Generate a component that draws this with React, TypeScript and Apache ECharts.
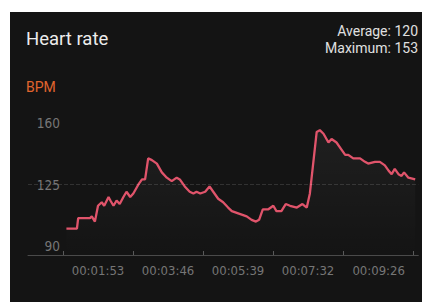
import React, { useEffect, useRef } from "react";
import * as echarts from "echarts";

// elapsed seconds of each sample
const times = [62, 79, 81, 100, 103, 108, 113, 119, 123, 130, 133, 138, 143, 148, 154, 159, 165, 170, 178, 184, 189, 194, 200, 208, 216, 224, 232, 240, 245, 253, 261, 267, 272, 278, 286, 293, 299, 307, 315, 323, 329, 337, 345, 353, 361, 368, 373, 379, 383, 388, 396, 401, 409, 416, 423, 434, 443, 450, 455, 460, 466, 471, 477, 485, 490, 498, 506, 512, 517, 525, 536, 544, 549, 560, 568, 576, 582, 587, 592, 598, 603, 607, 614, 625];
// heart rate (BPM)
const bpm = [100, 100, 106, 106, 107, 104, 113, 115, 113, 118, 116, 113, 116, 114, 118, 121, 118, 120, 125, 128, 128, 140, 139, 137, 132, 129, 127, 129, 128, 124, 121, 120, 121, 120, 121, 124, 121, 117, 115, 112, 110, 109, 108, 107, 105, 104, 105, 111, 111, 111, 113, 110, 110, 114, 113, 112, 114, 112, 120, 136, 155, 156, 154, 149, 151, 149, 145, 142, 142, 140, 140, 138, 137, 138, 138, 136, 133, 131, 134, 131, 130, 132, 129, 128];

const xLabelValues = [113, 226, 339, 452, 566];
const xTickValues = [56.5, 169.5, 282.5, 395.5, 508.5, 621.5];
const yLabelValues = [90, 125, 160];
const referenceLine = 125;
const title = "Heart rate";
const unit = "BPM";
const statAverage = "Average: 120";
const statMaximum = "Maximum: 153";

const narrow = "'Liberation Sans Narrow', 'DejaVu Sans Condensed', 'Roboto', sans-serif";

function fmt(sec: number) {
  const s = Math.round(sec);
  const h = Math.floor(s / 3600);
  const m = Math.floor((s % 3600) / 60);
  const r = s % 60;
  const p = (n: number) => String(n).padStart(2, "0");
  return `${p(h)}:${p(m)}:${p(r)}`;
}

export default function App() {
  const ref = useRef<HTMLDivElement>(null);
  useEffect(() => {
    if (!ref.current) return;
    const chart = echarts.init(ref.current, null, { renderer: "svg" });
    const data = times.map((t, i) => [t, bpm[i]]);
    chart.setOption({
      animation: false,
      backgroundColor: "transparent",
      grid: { left: 28, right: 3.7, top: 105.6, bottom: 47, containLabel: false, outerBoundsMode: "none" },
      graphic: [
        { type: "text", left: 26, top: 29, style: { text: title, fill: "#ececec", fontSize: 18.5, fontFamily: "Roboto, sans-serif" } },
        { type: "text", left: 26, top: 80, style: { text: unit, fill: "#e0652e", fontSize: 14, fontFamily: "Roboto, sans-serif" } },
        { type: "text", right: 4, top: 24, style: { text: statAverage, fill: "#e0e0e0", fontSize: 14, fontFamily: "Roboto, sans-serif" } },
        { type: "text", right: 4, top: 41, style: { text: statMaximum, fill: "#e0e0e0", fontSize: 14, fontFamily: "Roboto, sans-serif" } },
      ],
      xAxis: {
        type: "value",
        min: 0,
        max: 630,
        axisLine: { show: true, lineStyle: { color: "#4a4a4a", width: 1 } },
        axisTick: { show: true, inside: true, length: 4, customValues: xTickValues, lineStyle: { color: "#5a5a5a" } },
        axisLabel: { customValues: xLabelValues, formatter: (v: number) => fmt(v), color: "#767676", fontSize: 13, fontFamily: narrow, margin: 9 },
        splitLine: { show: false },
      },
      yAxis: {
        type: "value",
        min: 85,
        max: 170,
        axisLine: { show: false },
        axisTick: { show: false },
        splitLine: { show: false },
        axisLabel: { customValues: yLabelValues, color: "#767676", fontSize: 13.5, fontFamily: narrow, margin: -32 },
      },
      series: [
        {
          type: "line",
          data,
          symbol: "none",
          lineStyle: { color: "#e0546b", width: 2.3 },
          areaStyle: {
            color: new echarts.graphic.LinearGradient(0, 0, 0, 1, [
              { offset: 0, color: "rgba(255,255,255,0.07)" },
              { offset: 1, color: "rgba(255,255,255,0.0)" },
            ]),
          },
          markLine: {
            silent: true,
            symbol: "none",
            label: { show: false },
            lineStyle: { color: "rgba(255,255,255,0.13)", type: "dashed", width: 1 },
            data: [{ yAxis: referenceLine }],
          },
        },
      ],
    });
    return () => chart.dispose();
  }, []);
  return (
    <div style={{ position: "fixed", left: 0, top: 0, width: 422, height: 302, background: "#fff" }}>
      <div style={{ position: "absolute", left: 10, top: 12, width: 412, height: 290, background: "#141414" }} />
      <div ref={ref} style={{ position: "absolute", left: 0, top: 0, width: 422, height: 302 }} />
    </div>
  );
}
